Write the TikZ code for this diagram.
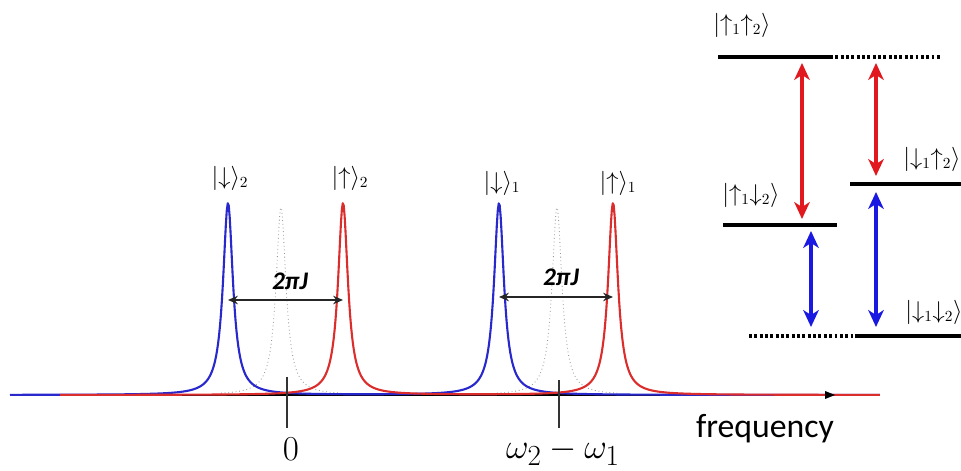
\documentclass[tikz,border=0pt]{standalone}
\usepackage{fontspec}
\setsansfont{Carlito}
\usetikzlibrary{arrows.meta}
\usepackage{amsmath}
\definecolor{cBlue}{RGB}{40, 40, 205}
\definecolor{cRed}{RGB}{220, 45, 45}
\definecolor{aBlue}{RGB}{25, 25, 225}
\definecolor{aRed}{RGB}{225, 25, 30}
\definecolor{cGhost}{RGB}{150, 150, 150}

\begin{document}
\begin{tikzpicture}[
    x=0.025cm, y=-0.025cm,
    declare function={lor(\z,\m)=192*0.36/(((\z-\m)/10)^2+0.36);},
    peak/.style={line width=1.5pt, line join=round},
    ghost/.style={line width=0.6pt, cGhost, dotted},
    freqaxis/.style={line width=1.8pt, black},
    tick/.style={line width=1pt, black!80},
    split/.style={{Stealth[length=7pt,width=6pt]}-{Stealth[length=7pt,width=6pt]}, line width=1.3pt, black!85},
    lvl/.style={line width=2.5pt, black},
    dotlvl/.style={line width=2.5pt, black, dash pattern=on 2pt off 1.8pt},
    trans/.style={{Stealth[length=12pt,width=11pt,inset=3.5pt]}-{Stealth[length=12pt,width=11pt,inset=3.5pt]}, line width=2.5pt},
    ket/.style={font=\fontsize{16}{18}\selectfont, inner sep=0pt},
    big/.style={font=\fontsize{30}{34}\selectfont, inner sep=0pt},
    jlabel/.style={font=\sffamily\bfseries\itshape\fontsize{18}{20}\selectfont, inner sep=0pt}
]
\useasboundingbox (0,0) rectangle (961,471);

% frequency axis and spectrum
\coordinate (ax0) at (10,395);
\coordinate (ax1) at (835,395);
\draw[freqaxis] (ax0) -- (ax1);
\draw[ghost] plot[domain=221:341, samples=120] (\x, {395-0.98*lor(\x,281)});
\draw[ghost] plot[domain=497:617, samples=120] (\x, {395-0.98*lor(\x,557)});
\draw[peak, cBlue] plot[domain=10:880, samples=900] (\x, {395-lor(\x,228)-lor(\x,499)});
\draw[peak, cRed] plot[domain=60:880, samples=900] (\x, {395-lor(\x,343)-lor(\x,613)});
\fill[black] (ax1) -- ++(-10,-4) -- ++(0,8) -- cycle;

% peak labels
\node[ket] (d2) at (230,178) {$|{\downarrow}\rangle_2$};
\node[ket] (u2) at (350,178) {$|{\uparrow}\rangle_2$};
\node[ket] (d1) at (502,183) {$|{\downarrow}\rangle_1$};
\node[ket] (u1) at (618,183) {$|{\uparrow}\rangle_1$};

% coupling splittings
\coordinate (s2a) at (228,300);
\coordinate (s2b) at (343,300);
\coordinate (s1a) at (499,297);
\coordinate (s1b) at (613,297);
\draw[split] (s2a) -- (s2b);
\draw[split] (s1a) -- (s1b);
\node[jlabel] (j2) at (290,281) {2πJ};
\node[jlabel] (j1) at (561,277) {2πJ};

% ticks and axis labels
\coordinate (t0a) at (287,377);
\coordinate (t0b) at (287,428);
\coordinate (t1a) at (559,380);
\coordinate (t1b) at (559,428);
\draw[tick] (t0a) -- (t0b);
\draw[tick] (t1a) -- (t1b);
\node[big, anchor=base] (zero) at (291,461) {$0$};
\node[big, anchor=base] (diff) at (563,459) {$\omega_2-\omega_1$};
\node[font=\sffamily\fontsize{24}{28}\selectfont, inner sep=0pt, anchor=base] (freq) at (765,438) {frequency};

% energy levels
\coordinate (uuL) at (718,57);
\coordinate (uuM) at (830,57);
\coordinate (uuR) at (942,57);
\coordinate (udL) at (723,225);
\coordinate (udR) at (837,225);
\coordinate (duL) at (850,184);
\coordinate (duR) at (961,184);
\coordinate (ddL) at (749,336);
\coordinate (ddM) at (855,336);
\coordinate (ddR) at (961,336);
\draw[lvl] (uuL) -- (uuM);
\draw[dotlvl] (uuM) -- (uuR);
\draw[lvl] (udL) -- (udR);
\draw[lvl] (duL) -- (duR);
\draw[dotlvl] (ddL) -- (ddM);
\draw[lvl] (ddM) -- (ddR);
\node[ket] (uu) at (742,25) {$|{\uparrow_1}{\uparrow_2}\rangle$};
\node[ket] (ud) at (751,195) {$|{\uparrow_1}{\downarrow_2}\rangle$};
\node[ket] (du) at (932,159) {$|{\downarrow_1}{\uparrow_2}\rangle$};
\node[ket] (dd) at (934,312) {$|{\downarrow_1}{\downarrow_2}\rangle$};

% transitions
\coordinate (r1t) at (802,63);
\coordinate (r1b) at (802,219);
\coordinate (r2t) at (876,63);
\coordinate (r2b) at (876,176);
\coordinate (b1t) at (811,231);
\coordinate (b1b) at (811,327);
\coordinate (b2t) at (876,192);
\coordinate (b2b) at (876,327);
\draw[trans, aRed] (r1t) -- (r1b);
\draw[trans, aRed] (r2t) -- (r2b);
\draw[trans, aBlue] (b1t) -- (b1b);
\draw[trans, aBlue] (b2t) -- (b2b);

\end{tikzpicture}
\end{document}
